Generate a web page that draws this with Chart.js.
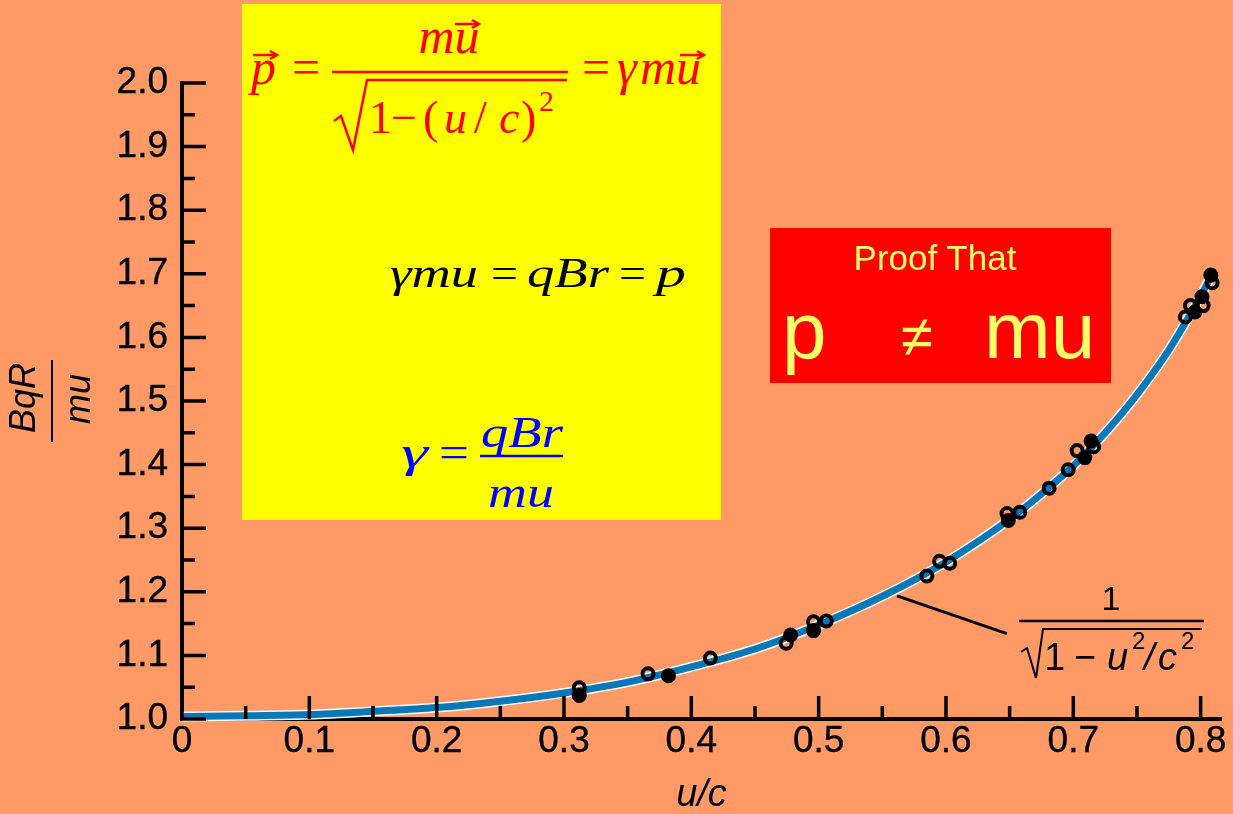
<!DOCTYPE html>
<html>
<head>
<meta charset="utf-8">
<script src="https://cdn.jsdelivr.net/npm/chart.js@4/dist/chart.umd.min.js"></script>
<style>
  body { margin: 0; background: #ff9966; }
  #wrap { position: relative; width: 1233px; height: 814px; }
  #chart { position: absolute; left: 0; top: 0; }
  #overlay { position: absolute; left: 0; top: 0; pointer-events: none; }
  .serif { font-family: 'Liberation Serif', 'Times New Roman', serif; }
  .sans { font-family: 'Liberation Sans', Arial, sans-serif; }
  .it { font-style: italic; }
</style>
</head>
<body>
<div id="wrap">
  <canvas id="chart" width="1233" height="814"></canvas>
  <svg id="overlay" width="1233" height="814">
    <!-- yellow box with the momentum equations -->
    <rect x="242" y="4" width="479" height="516" fill="#ffff00"/>
    <g class="serif" fill="#ff0000" font-size="50">
      <text x="251" y="84" class="it">p</text>
      <text x="292" y="84">=</text>
      <text x="449" y="53" class="it" text-anchor="middle">mu</text>
      <text x="369" y="133" font-size="46">1</text>
      <text x="391" y="133" font-size="46">−</text>
      <text x="423" y="133" font-size="46">(</text>
      <text x="444" y="133" font-size="46" class="it">u</text>
      <text x="474" y="133" font-size="46">/</text>
      <text x="499" y="133" font-size="46" class="it">c</text>
      <text x="521" y="133" font-size="46">)</text>
      <text x="539" y="111" font-size="30">2</text>
      <text x="582" y="84">=</text>
      <text x="617" y="84" class="it">γ</text>
      <text x="640" y="84" class="it">mu</text>
    </g>
    <g stroke="#ff0000" stroke-width="2.5" fill="none">
      <line x1="332" y1="72" x2="568" y2="72"/>
      <polyline points="334,121 341,116 353,150 367,80 567,80"/>
      <path d="M253 55 H276 M270 51 L277 55 L270 59"/>
      <path d="M455 24 H478 M472 20 L479 24 L472 28"/>
      <path d="M680 55 H703 M697 51 L704 55 L697 59"/>
    </g>
    <g class="serif" fill="#000000" font-size="42">
      <text x="390" y="287" class="it" textLength="88" lengthAdjust="spacingAndGlyphs">γmu</text>
      <text x="491" y="287" textLength="27" lengthAdjust="spacingAndGlyphs">=</text>
      <text x="527" y="287" class="it" textLength="82" lengthAdjust="spacingAndGlyphs">qBr</text>
      <text x="619" y="287" textLength="27" lengthAdjust="spacingAndGlyphs">=</text>
      <text x="656" y="287" class="it" textLength="30" lengthAdjust="spacingAndGlyphs">p</text>
    </g>
    <g class="serif" fill="#0000ff" font-size="44">
      <text x="401" y="467" class="it" textLength="27" lengthAdjust="spacingAndGlyphs">γ</text>
      <text x="439" y="467" textLength="30" lengthAdjust="spacingAndGlyphs">=</text>
      <text x="481" y="447" class="it" textLength="82" lengthAdjust="spacingAndGlyphs">qBr</text>
      <text x="488" y="507" class="it" textLength="66" lengthAdjust="spacingAndGlyphs">mu</text>
      <line x1="480" y1="456" x2="563" y2="456" stroke="#0000ff" stroke-width="2.5"/>
    </g>
    <!-- red box -->
    <rect x="770" y="228" width="341" height="155" fill="#ff0000"/>
    <g class="sans" fill="#ffff66">
      <text x="935" y="270" font-size="35" text-anchor="middle">Proof That</text>
      <text x="782" y="358" font-size="80">p</text>
      <text x="917" y="356" font-size="58" text-anchor="middle">≠</text>
      <text x="984" y="358" font-size="80">mu</text>
    </g>
    <!-- curve label -->
    <g class="sans" fill="#000000" font-size="38">
      <text x="1111" y="610" font-size="34" text-anchor="middle">1</text>
      <text x="1044" y="670">1</text>
      <text x="1074" y="670">−</text>
      <text x="1107" y="670" class="it">u</text>
      <text x="1132" y="649" font-size="24">2</text>
      <text x="1144" y="670" class="it">/</text>
      <text x="1158" y="670" class="it">c</text>
      <text x="1181" y="649" font-size="24">2</text>
    </g>
    <g stroke="#000000" fill="none">
      <line x1="1019" y1="621" x2="1204" y2="621" stroke-width="2.5"/>
      <polyline points="1021,652 1027,648 1036,678 1043,629 1202,629" stroke-width="2"/>
    </g>
    <!-- y axis title -->
    <g transform="translate(52,401) rotate(-90)" class="sans" font-size="36" fill="#000000">
      <text x="3" y="-17" class="it" text-anchor="middle">BqR</text>
      <text x="2" y="38" class="it" text-anchor="middle">mu</text>
      <line x1="-41" y1="0" x2="41" y2="0" stroke="#000000" stroke-width="2"/>
    </g>
  </svg>
</div>
<script>
// values
const curveU = [0, 0.05, 0.1, 0.15, 0.2, 0.25, 0.3, 0.35, 0.4, 0.45, 0.5, 0.55, 0.6, 0.65, 0.675, 0.7, 0.725, 0.75, 0.775, 0.79, 0.8, 0.81];
const curveGamma = [1.004, 1.005, 1.007, 1.012, 1.018, 1.028, 1.041, 1.058, 1.082, 1.110, 1.148, 1.193, 1.247, 1.314, 1.354, 1.398, 1.450, 1.510, 1.580, 1.630, 1.665, 1.703];

const openU = [0.312, 0.366, 0.415, 0.4745, 0.496, 0.506, 0.585, 0.595, 0.603, 0.648, 0.658, 0.681, 0.696, 0.703, 0.716, 0.788, 0.792, 0.802, 0.809];
const openGamma = [1.049, 1.071, 1.096, 1.119, 1.153, 1.154, 1.225, 1.248, 1.245, 1.323, 1.325, 1.363, 1.392, 1.422, 1.428, 1.632, 1.650, 1.650, 1.686];

const filledU = [0.312, 0.382, 0.478, 0.496, 0.649, 0.709, 0.714, 0.7955, 0.801, 0.808];
const filledGamma = [1.037, 1.068, 1.132, 1.139, 1.312, 1.411, 1.437, 1.640, 1.664, 1.698];

const xTickValues = [0, 0.1, 0.2, 0.3, 0.4, 0.5, 0.6, 0.7, 0.8];
const xTickLabels = ['0', '0.1', '0.2', '0.3', '0.4', '0.5', '0.6', '0.7', '0.8'];
const xMinorTicks = [0.05, 0.15, 0.25, 0.35, 0.45, 0.55, 0.65, 0.75];
const yTickValues = [1.0, 1.1, 1.2, 1.3, 1.4, 1.5, 1.6, 1.7, 1.8, 1.9, 2.0];
const yTickLabels = ['1.0', '1.1', '1.2', '1.3', '1.4', '1.5', '1.6', '1.7', '1.8', '1.9', '2.0'];
const yMinorTicks = [1.05, 1.15, 1.25, 1.35, 1.45, 1.55, 1.65, 1.75, 1.85, 1.95];

// leader line from the curve to its formula (data units)
const leaderU = [0.5616, 0.6478];
const leaderGamma = [1.1937, 1.1343];

const toPoints = (xs, ys) => xs.map((x, i) => ({ x: x, y: ys[i] }));

const tickFont = { family: "'Liberation Sans', Arial, sans-serif", size: 37, lineHeight: 1.2 };

// ticks point into the plot, plus the leader line
const inwardTicks = {
    id: 'inwardTicks',
    beforeDatasetsDraw(chart) {
        const { ctx, scales: { x, y } } = chart;
        ctx.save();
        ctx.strokeStyle = '#000';
        ctx.lineWidth = 3;
        ctx.beginPath();
        ctx.moveTo(x.getPixelForValue(leaderU[0]), y.getPixelForValue(leaderGamma[0]));
        ctx.lineTo(x.getPixelForValue(leaderU[1]), y.getPixelForValue(leaderGamma[1]));
        ctx.stroke();
        ctx.restore();
    },
    afterDatasetsDraw(chart) {
        const { ctx, chartArea, scales: { x, y } } = chart;
        ctx.save();
        ctx.strokeStyle = '#000';
        ctx.lineWidth = 3.5;
        ctx.beginPath();
        const b = chartArea.bottom, l = chartArea.left;
        xTickValues.forEach(v => { const p = x.getPixelForValue(v); ctx.moveTo(p, b); ctx.lineTo(p, b - 23); });
        xMinorTicks.forEach(v => { const p = x.getPixelForValue(v); ctx.moveTo(p, b); ctx.lineTo(p, b - 13); });
        yTickValues.forEach(v => { const p = y.getPixelForValue(v); ctx.moveTo(l, p); ctx.lineTo(l + 24, p); });
        yMinorTicks.forEach(v => { const p = y.getPixelForValue(v); ctx.moveTo(l, p); ctx.lineTo(l + 13, p); });
        ctx.stroke();
        ctx.restore();
    }
};

document.addEventListener('DOMContentLoaded', function() {
    const ctx = document.getElementById('chart').getContext('2d');
    new Chart(ctx, {
        type: 'scatter',
        data: {
            datasets: [{
                data: toPoints(filledU, filledGamma),
                pointRadius: 5.5,
                pointBorderWidth: 4,
                pointBorderColor: '#000',
                pointBackgroundColor: '#000',
                showLine: false,
                clip: false,
                order: 0
            }, {
                data: toPoints(openU, openGamma),
                pointRadius: 5.5,
                pointBorderWidth: 4,
                pointBorderColor: '#000',
                pointBackgroundColor: 'rgba(0,0,0,0)',
                showLine: false,
                clip: false,
                order: 1
            }, {
                data: toPoints(curveU, curveGamma),
                borderColor: '#0a78b8',
                borderWidth: 7,
                pointRadius: 0,
                showLine: true,
                cubicInterpolationMode: 'monotone',
                clip: false,
                order: 2
            }, {
                data: toPoints(curveU, curveGamma),
                borderColor: '#ffffff',
                borderWidth: 10,
                pointRadius: 0,
                showLine: true,
                cubicInterpolationMode: 'monotone',
                clip: false,
                order: 3
            }]
        },
        options: {
            responsive: false,
            animation: false,
            layout: { padding: { top: 83, right: 12, left: 0, bottom: 0 } },
            plugins: {
                legend: { display: false },
                tooltip: { enabled: false }
            },
            scales: {
                x: {
                    type: 'linear',
                    min: 0,
                    max: 0.816,
                    afterFit: s => { s.height = 95; },
                    afterBuildTicks: s => { s.ticks = xTickValues.map(v => ({ value: v })); },
                    grid: { display: false, drawTicks: false },
                    border: { display: true, color: '#000', width: 4 },
                    ticks: {
                        callback: (value, index) => xTickLabels[index],
                        color: '#000',
                        font: tickFont,
                        textStrokeColor: '#000',
                        textStrokeWidth: 0.4,
                        padding: 1,
                        maxRotation: 0,
                        autoSkip: false
                    },
                    title: {
                        display: true,
                        text: 'u/c',
                        color: '#000',
                        font: { family: "'Liberation Sans', Arial, sans-serif", size: 38, style: 'italic', lineHeight: 1 },
                        padding: 0
                    }
                },
                y: {
                    type: 'linear',
                    min: 1.0,
                    max: 2.0,
                    afterFit: s => { s.width = 182; },
                    afterBuildTicks: s => { s.ticks = yTickValues.map(v => ({ value: v })); },
                    grid: { display: false, drawTicks: false },
                    border: { display: true, color: '#000', width: 4 },
                    ticks: {
                        callback: (value, index) => yTickLabels[index],
                        color: '#000',
                        font: tickFont,
                        textStrokeColor: '#000',
                        textStrokeWidth: 0.4,
                        padding: 14,
                        autoSkip: false
                    }
                }
            }
        },
        plugins: [inwardTicks]
    });
});
</script>
</body>
</html>
